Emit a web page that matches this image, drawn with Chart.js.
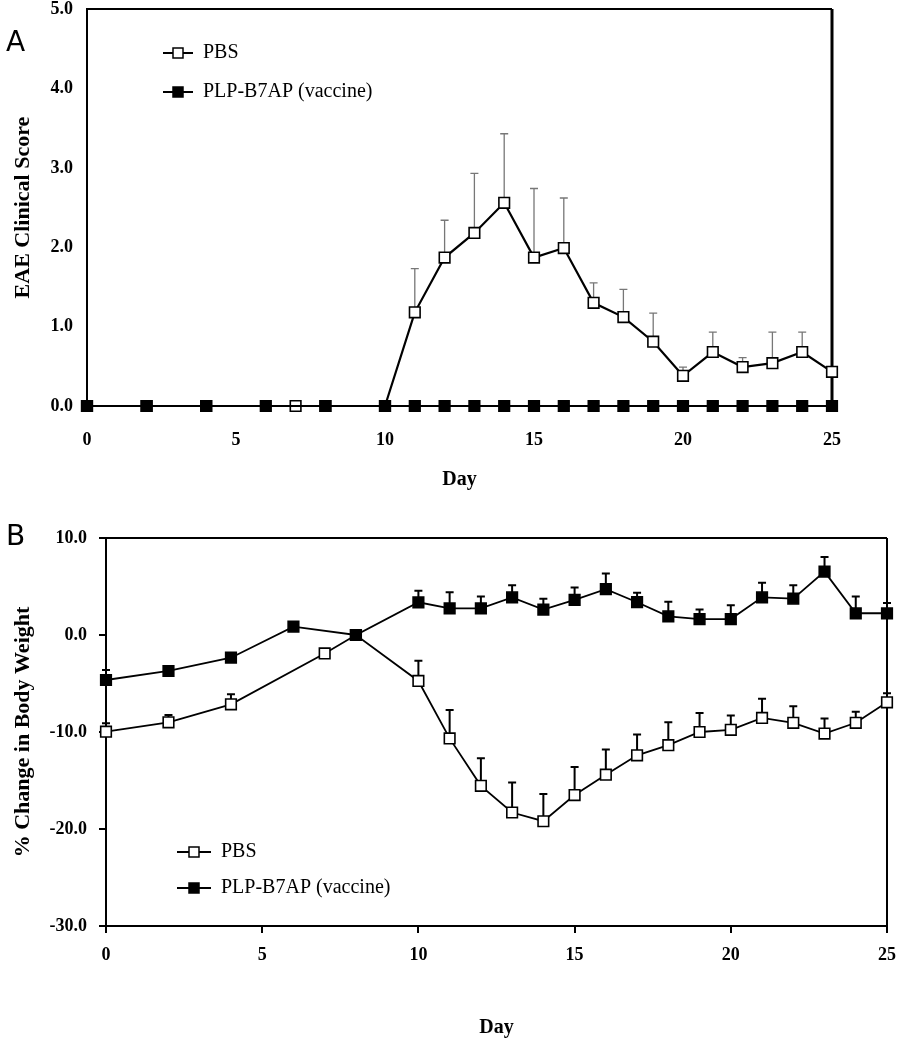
<!DOCTYPE html>
<html>
<head>
<meta charset="utf-8">
<script src="https://cdn.jsdelivr.net/npm/chart.js@4.4.1/dist/chart.umd.min.js"></script>
<style>
  body { margin: 0; background: #fff; }
  #wrapA { position: absolute; left: 0; top: 0; }
  #wrapB { position: absolute; left: 0; top: 500px; }
</style>
</head>
<body>
<div id="wrapA"><canvas id="chartA" width="897" height="500"></canvas></div>
<div id="wrapB"><canvas id="chartB" width="897" height="550"></canvas></div>
<script>
// Panel A - EAE clinical score
var pbsDaysA = [0, 2, 4, 7, 8, 10, 11, 12, 13, 14, 15, 16, 17, 18, 19, 20, 21, 22, 23, 24, 25];
var pbsScoreA = [0, 0, 0, 0, 0, 0, 1.18, 1.87, 2.18, 2.56, 1.87, 1.99, 1.30, 1.12, 0.81, 0.38, 0.68, 0.49, 0.54, 0.68, 0.43];
var pbsErrA = [0, 0, 0, 0, 0, 0, 0.55, 0.47, 0.75, 0.87, 0.87, 0.63, 0.25, 0.35, 0.36, 0.11, 0.25, 0.12, 0.39, 0.25, 0];
var vacDaysA = [0, 2, 4, 6, 8, 10, 11, 12, 13, 14, 15, 16, 17, 18, 19, 20, 21, 22, 23, 24, 25];
var vacScoreA = [0, 0, 0, 0, 0, 0, 0, 0, 0, 0, 0, 0, 0, 0, 0, 0, 0, 0, 0, 0, 0];

// Panel B - % change in body weight
var pbsDaysB = [0, 2, 4, 7, 8, 10, 11, 12, 13, 14, 15, 16, 17, 18, 19, 20, 21, 22, 23, 24, 25];
var pbsWeightB = [-9.97, -9.0, -7.15, -1.9, 0, -4.74, -10.66, -15.55, -18.3, -19.2, -16.5, -14.4, -12.4, -11.36, -10.0, -9.78, -8.55, -9.05, -10.16, -9.05, -6.94];
var pbsErrB = [0.87, 0.75, 1.05, 0, 0, 2.09, 2.93, 2.85, 3.1, 2.8, 2.9, 2.6, 2.15, 2.37, 1.96, 1.48, 1.99, 1.7, 1.56, 1.15, 0.94];
var vacDaysB = [0, 2, 4, 6, 8, 10, 11, 12, 13, 14, 15, 16, 17, 18, 19, 20, 21, 22, 23, 24, 25];
var vacWeightB = [-4.64, -3.71, -2.34, 0.86, 0, 3.37, 2.75, 2.75, 3.88, 2.62, 3.63, 4.73, 3.38, 1.92, 1.64, 1.64, 3.88, 3.75, 6.53, 2.24, 2.24];
var vacErrB = [1.04, 0, 0, 0, 0, 1.2, 1.65, 1.22, 1.26, 1.13, 1.26, 1.61, 0.97, 1.52, 0.98, 1.42, 1.51, 1.39, 1.51, 1.73, 1.07];

var seriesNames = ['PBS', 'PLP-B7AP (vaccine)'];
var dayTicks = [0, 5, 10, 15, 20, 25];

var serif = '"Liberation Serif", "Times New Roman", serif';
Chart.defaults.font.family = serif;
Chart.defaults.color = '#000';

function pts(days, vals) {
  return days.map(function (d, i) { return { x: d, y: vals[i] }; });
}

// upward error bars, drawn under the markers
var errorBars = {
  id: 'errorBars',
  beforeDatasetsDraw: function (chart) {
    var ctx = chart.ctx, xs = chart.scales.x, ys = chart.scales.y;
    chart.data.datasets.forEach(function (ds) {
      if (!ds.errors) return;
      ctx.save();
      ctx.strokeStyle = ds.errColor;
      ctx.lineWidth = ds.errWidth;
      ds.data.forEach(function (p, i) {
        var e = ds.errors[i];
        if (!e) return;
        var x = xs.getPixelForValue(p.x);
        var y0 = ys.getPixelForValue(p.y);
        var y1 = ys.getPixelForValue(p.y + e);
        ctx.beginPath();
        ctx.moveTo(x, y0); ctx.lineTo(x, y1);
        ctx.moveTo(x - 4, y1); ctx.lineTo(x + 4, y1);
        ctx.stroke();
      });
      ctx.restore();
    });
  }
};

// top + right frame lines and panel letter
var frame = {
  id: 'frame',
  beforeDatasetsDraw: function (chart, args, opts) {
    var a = chart.chartArea, ctx = chart.ctx;
    ctx.save();
    ctx.strokeStyle = '#000';
    ctx.lineWidth = opts.top;
    ctx.beginPath(); ctx.moveTo(a.left, a.top); ctx.lineTo(a.right, a.top); ctx.stroke();
    ctx.lineWidth = opts.right;
    ctx.beginPath(); ctx.moveTo(a.right, a.top); ctx.lineTo(a.right, a.bottom); ctx.stroke();
    ctx.fillStyle = '#000';
    ctx.font = '28px "DejaVu Sans", sans-serif';
    ctx.textBaseline = 'middle';
    ctx.fillText(opts.letter, opts.lx, opts.ly);
    ctx.restore();
  }
};

// legend drawn inside the plot
var boxLegend = {
  id: 'boxLegend',
  afterDraw: function (chart, args, opts) {
    var ctx = chart.ctx;
    ctx.save();
    ctx.font = '20px ' + serif;
    ctx.textBaseline = 'middle';
    chart.data.datasets.forEach(function (ds, i) {
      var y = opts.y + i * opts.gap;
      ctx.strokeStyle = '#000';
      ctx.lineWidth = 2;
      ctx.beginPath(); ctx.moveTo(opts.x, y); ctx.lineTo(opts.x + opts.len, y); ctx.stroke();
      var cx = opts.x + opts.len / 2;
      ctx.fillStyle = ds.pointBackgroundColor;
      ctx.fillRect(cx - 5, y - 5, 10, 10);
      ctx.lineWidth = 1.5;
      ctx.strokeRect(cx - 5, y - 5, 10, 10);
      ctx.fillStyle = '#000';
      ctx.fillText(ds.label, opts.x + opts.len + 10, y);
    });
    ctx.restore();
  }
};

function makeChart(id, cfg) {
  return new Chart(document.getElementById(id), {
    type: 'line',
    data: {
      datasets: [{
        label: seriesNames[0],
        data: pts(cfg.pbsDays, cfg.pbs),
        errors: cfg.pbsErr,
        errColor: cfg.errColor,
        errWidth: cfg.errWidth,
        borderColor: '#000',
        borderWidth: cfg.lineWidth,
        pointStyle: 'rect',
        pointRadius: 7.5,
        pointBorderWidth: 1.6,
        pointBorderColor: '#000',
        pointBackgroundColor: '#fff',
        clip: false,
        order: 2
      }, {
        label: seriesNames[1],
        data: pts(cfg.vacDays, cfg.vac),
        errors: cfg.vacErr,
        errColor: cfg.errColor,
        errWidth: cfg.errWidth,
        borderColor: '#000',
        borderWidth: cfg.lineWidth,
        pointStyle: 'rect',
        pointRadius: 7.5,
        pointBorderWidth: 1.6,
        pointBorderColor: '#000',
        pointBackgroundColor: '#000',
        clip: false,
        order: 1
      }]
    },
    options: {
      responsive: false,
      animation: false,
      devicePixelRatio: 1,
      layout: { padding: cfg.padding },
      plugins: {
        legend: { display: false },
        tooltip: { enabled: false },
        frame: cfg.frame,
        boxLegend: cfg.legend
      },
      scales: {
        x: {
          type: 'linear',
          min: 0, max: 25,
          afterBuildTicks: function (s) { s.ticks = dayTicks.map(function (v) { return { value: v }; }); },
          ticks: { font: { size: 18, weight: 'bold' }, padding: cfg.xPad, color: '#000' },
          grid: { display: cfg.ticks, drawOnChartArea: false, drawTicks: cfg.ticks, tickLength: 7, color: '#000', lineWidth: 2 },
          border: { display: true, color: '#000', width: 2 },
          title: { display: true, text: 'Day', font: { size: 20, weight: 'bold' }, color: '#000' },
          afterFit: function (s) { s.height = cfg.xHeight; s.paddingLeft = 0; s.paddingRight = 0; }
        },
        y: {
          min: cfg.yMin, max: cfg.yMax,
          afterBuildTicks: function (s) { s.ticks = cfg.yTicks.map(function (v) { return { value: v }; }); },
          ticks: { font: { size: 18, weight: 'bold' }, padding: cfg.yPad, color: '#000', callback: function (v) { return v.toFixed(1); } },
          grid: { display: cfg.ticks, drawOnChartArea: false, drawTicks: cfg.ticks, tickLength: 7, color: '#000', lineWidth: 2 },
          border: { display: true, color: '#000', width: 2 },
          title: { display: true, text: cfg.yTitle, font: { size: 22, weight: 'bold' }, color: '#000' },
          afterFit: function (s) { s.width = cfg.yWidth; s.paddingTop = 0; s.paddingBottom = 0; }
        }
      }
    },
    plugins: [errorBars, frame, boxLegend]
  });
}

makeChart('chartA', {
  pbsDays: pbsDaysA, pbs: pbsScoreA, pbsErr: pbsErrA,
  vacDays: vacDaysA, vac: vacScoreA, vacErr: null,
  errColor: '#777', errWidth: 1.3, lineWidth: 2.2,
  padding: { left: 6, top: 7, right: 65, bottom: 4 },
  xHeight: 90, yWidth: 81, xPad: 24, yPad: 14, ticks: false,
  yMin: 0, yMax: 5, yTicks: [0, 1, 2, 3, 4, 5],
  yTitle: 'EAE Clinical Score',
  frame: { top: 2, right: 3, letter: 'A', lx: 6, ly: 44 },
  legend: { x: 163, y: 53, gap: 39, len: 30 }
});

makeChart('chartB', {
  pbsDays: pbsDaysB, pbs: pbsWeightB, pbsErr: pbsErrB,
  vacDays: vacDaysB, vac: vacWeightB, vacErr: vacErrB,
  errColor: '#000', errWidth: 2, lineWidth: 1.8,
  padding: { left: 6, top: 38, right: 10, bottom: 6 },
  xHeight: 118, yWidth: 100, xPad: 12, yPad: 12, ticks: true,
  yMin: -30, yMax: 10, yTicks: [-30, -20, -10, 0, 10],
  yTitle: '% Change in Body Weight',
  frame: { top: 2, right: 2, letter: 'B', lx: 6, ly: 38 },
  legend: { x: 177, y: 352, gap: 36, len: 34 }
});
</script>
</body>
</html>
